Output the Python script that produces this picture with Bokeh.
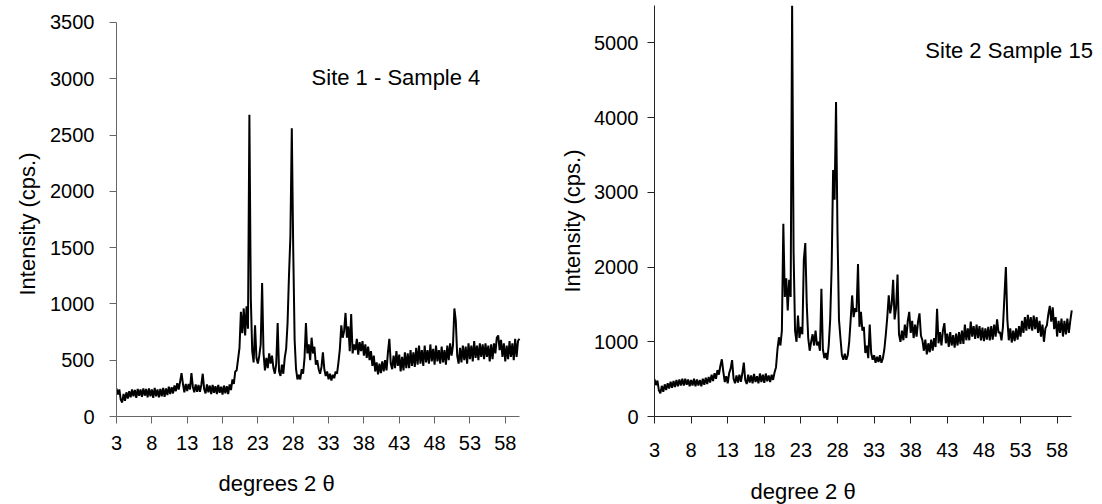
import numpy as np
from bokeh.plotting import figure
from bokeh.layouts import row
from bokeh.models import Range1d, FixedTicker, Label, Title
from bokeh.embed import file_html
from bokeh.resources import INLINE

# ---------------- data ----------------
# 2-theta grid (degrees), 0.2 deg steps from 3.0 to 60.0
two_theta = np.round(np.arange(3.0, 60.0001, 0.2), 1)

# Site 1 - Sample 4 intensities (cps)
site1_sample4 = [
    250, 195, 240, 150, 125, 200, 140, 215, 160, 225,      # 3.0 - 4.8
    170, 240, 180, 235, 165, 245, 185, 240, 175, 250,      # 5.0 - 6.8
    185, 245, 170, 250, 180, 240, 165, 255, 180, 240,      # 7.0 - 8.8
    170, 245, 180, 255, 175, 250, 190, 265, 200, 260,      # 9.0 - 10.8
    205, 275, 225, 295, 240, 310, 385, 290, 215, 290,      # 11.0 - 12.8
    225, 290, 240, 385, 265, 215, 285, 220, 280, 220,      # 13.0 - 14.8
    280, 380, 245, 205, 285, 215, 275, 200, 280, 210,      # 15.0 - 16.8
    270, 200, 280, 210, 265, 195, 275, 205, 270, 200,      # 17.0 - 18.8
    285, 235, 330, 290, 400, 410, 510, 610, 930, 740,      # 19.0 - 20.8
    960, 720, 980, 780, 2680, 1050, 580, 480, 810, 520,    # 21.0 - 22.8
    470, 540, 640, 1185, 560, 410, 520, 430, 560, 470,     # 23.0 - 24.8
    540, 430, 380, 470, 830, 400, 360, 460, 380, 520,      # 25.0 - 26.8
    600, 830, 1250, 1600, 2560, 1490, 680, 420, 330, 370,  # 27.0 - 28.8
    330, 420, 380, 520, 830, 560, 640, 500, 700, 560,      # 29.0 - 30.8
    620, 460, 500, 420, 380, 440, 570, 420, 360, 400,      # 31.0 - 32.8
    330, 380, 320, 370, 340, 400, 380, 480, 600, 810,      # 33.0 - 34.8
    700, 760, 920, 700, 800, 580, 910, 560, 640, 590,      # 35.0 - 36.8
    690, 550, 660, 580, 670, 540, 640, 520, 620, 500,      # 37.0 - 38.8
    580, 450, 540, 400, 480, 375, 470, 385, 490, 400,      # 39.0 - 40.8
    500, 410, 570, 690, 470, 420, 540, 430, 580, 450,      # 41.0 - 42.8
    550, 400, 530, 410, 570, 430, 560, 430, 590, 450,      # 43.0 - 44.8
    570, 440, 610, 460, 630, 470, 590, 450, 630, 480,      # 45.0 - 46.8
    590, 470, 640, 490, 600, 460, 630, 490, 590, 470,      # 47.0 - 48.8
    620, 480, 590, 460, 630, 500, 650, 540, 630, 960,      # 49.0 - 50.8
    850, 540, 470, 610, 480, 630, 500, 620, 470, 650,      # 51.0 - 52.8
    510, 630, 490, 670, 520, 630, 500, 650, 530, 640,      # 53.0 - 54.8
    510, 650, 530, 630, 490, 640, 510, 650, 560, 700,      # 55.0 - 56.8
    720, 590, 680, 530, 650, 490, 630, 510, 670, 530,      # 57.0 - 58.8
    650, 500, 690, 530, 670, 690,                          # 59.0 - 60.0
]

# Site 2 Sample 15 intensities (cps)
site2_sample15 = [
    500, 420, 480, 350, 310, 410, 330, 430, 355, 445,          # 3.0 - 4.8
    375, 465, 385, 475, 395, 490, 405, 495, 415, 505,          # 5.0 - 6.8
    415, 505, 425, 495, 405, 490, 415, 505, 405, 495,          # 7.0 - 8.8
    415, 490, 405, 505, 425, 520, 435, 530, 455, 560,          # 9.0 - 10.8
    475, 580, 505, 620, 560, 680, 765, 600, 460, 540,          # 11.0 - 12.8
    445, 580, 640, 755, 505, 445, 550, 455, 560, 465,          # 13.0 - 14.8
    575, 720, 485, 435, 560, 455, 550, 445, 570, 460,          # 15.0 - 16.8
    540, 445, 575, 460, 560, 450, 575, 470, 550, 460,          # 17.0 - 18.8
    560, 490, 590, 660, 900, 1060, 950, 1150, 2580, 1600,      # 19.0 - 20.8
    1850, 1420, 1830, 1600, 5500, 2200, 1150, 1000, 1350, 1050, # 21.0 - 22.8
    1200, 1100, 2100, 2320, 1500, 1050, 880, 1000, 1100, 950,  # 23.0 - 24.8
    1150, 950, 1000, 880, 1710, 900, 780, 850, 760, 950,       # 25.0 - 26.8
    1300, 2000, 3300, 2900, 4210, 2450, 1300, 1050, 820, 760,  # 27.0 - 28.8
    840, 760, 820, 1000, 1300, 1620, 1330, 1450, 1400, 2040,   # 29.0 - 30.8
    1200, 1400, 1150, 1200, 850, 950, 780, 1230, 850, 760,     # 31.0 - 32.8
    820, 720, 800, 730, 820, 720, 780, 900, 1100, 1330,        # 33.0 - 34.8
    1620, 1380, 1500, 1830, 1300, 1450, 1900, 1100, 1000, 1150, # 35.0 - 36.8
    1020, 1230, 1050, 1280, 1400, 1120, 1280, 1050, 1230, 1070, # 37.0 - 38.8
    1270, 1380, 1080, 1020, 880, 1030, 830, 980, 860, 1030,    # 39.0 - 40.8
    880, 1050, 930, 1440, 980, 1130, 950, 1150, 1250, 980,     # 41.0 - 42.8
    1110, 930, 1130, 950, 1090, 920, 1110, 950, 1130, 970,     # 43.0 - 44.8
    1150, 970, 1230, 1020, 1180, 1020, 1270, 1070, 1210, 1040, # 45.0 - 46.8
    1230, 1050, 1210, 1020, 1190, 1010, 1180, 1030, 1200, 1020, # 47.0 - 48.8
    1210, 1030, 1230, 1070, 1300, 1120, 1130, 1020, 1200, 1600, # 49.0 - 50.8
    2000, 1300, 1020, 1180, 990, 1150, 1010, 1180, 1030, 1210, # 51.0 - 52.8
    1070, 1280, 1120, 1330, 1150, 1360, 1170, 1330, 1150, 1350, # 53.0 - 54.8
    1170, 1330, 1120, 1280, 1070, 1230, 1000, 1180, 1220, 1370, # 55.0 - 56.8
    1480, 1270, 1460, 1170, 1330, 1070, 1280, 1120, 1310, 1070, # 57.0 - 58.8
    1280, 1100, 1310, 1120, 1280, 1420,                        # 59.0 - 60.0
]

x_ticks = [3, 8, 13, 18, 23, 28, 33, 38, 43, 48, 53, 58]
y_ticks_site1 = [0, 500, 1000, 1500, 2000, 2500, 3000, 3500]
y_ticks_site2 = [0, 1000, 2000, 3000, 4000, 5000]

FONT = "Liberation Sans"
TICK_SIZE = "20px"
TITLE_SIZE = "22px"
NOTE_SIZE = "22px"

# shared borders so the row layout does not shift the frames
B_LEFT, B_RIGHT, B_TOP, B_BOTTOM = 116, 0, 5, 88
FRAME_H = 411


def make_panel(y, y_end, y_axis_max, y_ticks, axis_color, fw, x_end,
               xstand, ystand, ytitle_offset, ytitle_standoff,
               note, note_xy, xtitle, xtitle_offset, xtitle_standoff):
    p = figure(output_backend="svg", toolbar_location=None,
               frame_width=fw, frame_height=FRAME_H,
               min_border_left=B_LEFT, min_border_right=B_RIGHT,
               min_border_top=B_TOP, min_border_bottom=B_BOTTOM,
               x_range=Range1d(3, x_end), y_range=Range1d(0, y_end))
    p.outline_line_color = None
    p.grid.visible = False
    p.background_fill_color = "white"
    p.border_fill_color = "white"

    p.line(two_theta, y, line_color="black", line_width=2)

    xa, ya = p.xaxis[0], p.yaxis[0]
    for ax in (xa, ya):
        ax.axis_line_color = axis_color
        ax.axis_line_width = 1
        ax.major_tick_line_color = axis_color
        ax.major_tick_in = 0
        ax.major_tick_out = 7
        ax.minor_tick_line_color = None
        ax.major_label_text_font = FONT
        ax.major_label_text_font_size = TICK_SIZE
        ax.major_label_text_color = "black"
    xa.ticker = FixedTicker(ticks=x_ticks)
    ya.ticker = FixedTicker(ticks=y_ticks)
    xa.bounds = (3, 60)
    ya.bounds = (0, y_axis_max)
    xa.major_label_standoff = xstand
    ya.major_label_standoff = ystand

    p.add_layout(Title(text="Intensity (cps.)", align="left",
                       offset=ytitle_offset, standoff=ytitle_standoff,
                       text_font=FONT, text_font_size=TITLE_SIZE,
                       text_font_style="normal", text_color="black"),
                 "left")

    p.add_layout(Title(text=xtitle, align="left", offset=xtitle_offset,
                       standoff=xtitle_standoff,
                       text_font=FONT, text_font_size=TITLE_SIZE,
                       text_font_style="normal", text_color="black"),
                 "below")

    p.add_layout(Label(x=note_xy[0], y=note_xy[1], text=note,
                       text_font=FONT, text_font_size=NOTE_SIZE,
                       text_align="left", text_baseline="middle",
                       text_color="black"))
    return p


# left panel: frame 116..538 px, 7.07 px/deg; 0 cps at 416, 3500 cps at 22
p1 = make_panel(site1_sample4, 3651, 3500, y_ticks_site1, "#666666",
                fw=422, x_end=62.7,
                xstand=12, ystand=15, ytitle_offset=121, ytitle_standoff=16,
                note="Site 1 - Sample 4", note_xy=(30.6, 3011),
                xtitle="degrees 2 θ", xtitle_offset=102, xtitle_standoff=32)

# right panel: frame 654..1102 px, 7.32 px/deg; 0..5500 cps over 411 px
p2 = make_panel(site2_sample15, 5500, 5500, y_ticks_site2, "#222222",
                fw=448, x_end=64.2,
                xstand=19, ystand=9, ytitle_offset=124, ytitle_standoff=14,
                note="Site 2 Sample 15", note_xy=(40.0, 4898),
                xtitle="degree 2 θ", xtitle_offset=96, xtitle_standoff=34)

layout = row(p1, p2)
open("out.html", "w").write(file_html(layout, INLINE))
